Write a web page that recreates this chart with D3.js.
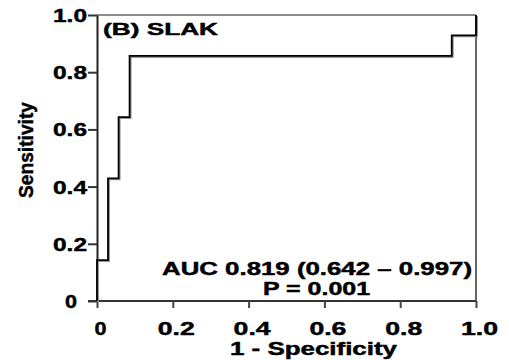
<!DOCTYPE html>
<html>
<head>
<meta charset="utf-8">
<script src="https://cdn.jsdelivr.net/npm/d3@7"></script>
<style>
  body { margin: 0; background: #fff; }
  text { font-family: "Liberation Sans", Arial, sans-serif; font-weight: bold; fill: #000; stroke: #000; stroke-width: 0.45px; }
</style>
</head>
<body>
<div id="chart"></div>
<script>
// ROC step points (1 - specificity, sensitivity)
const fpr = [0, 0, 0.029, 0.057, 0.086, 0.936, 1];
const tpr = [0, 0.143, 0.429, 0.643, 0.857, 0.929, 1];
const tickValues = [0, 0.2, 0.4, 0.6, 0.8, 1.0];
const panelTitle = "(B) SLAK";
const aucText = "AUC 0.819 (0.642 \u2013 0.997)";
const pText = "P = 0.001";

const width = 509, height = 360;
const margin = { left: 97, right: 33, top: 15, bottom: 59 };

const svg = d3.select("#chart").append("svg")
    .attr("width", width)
    .attr("height", height);

const x = d3.scaleLinear().domain([0, 1]).range([margin.left, width - margin.right]);
const y = d3.scaleLinear().domain([0, 1]).range([height - margin.bottom, margin.top]);

const fmt = d => d === 0 ? "0" : d3.format(".1f")(d);

// top frame line (gray) and right frame line
svg.append("line")
   .attr("x1", x(0)).attr("x2", x(1))
   .attr("y1", y(1)).attr("y2", y(1))
   .attr("stroke", "#8a8a8a").attr("stroke-width", 2);
svg.append("line")
   .attr("x1", x(1)).attr("x2", x(1))
   .attr("y1", y(1)).attr("y2", y(0))
   .attr("stroke", "#333").attr("stroke-width", 1.5);

// y axis
const yAxis = svg.append("g")
   .attr("transform", `translate(${x(0)},0)`)
   .call(d3.axisLeft(y).tickValues(tickValues).tickSize(9).tickSizeOuter(0).tickFormat(fmt));
yAxis.select(".domain").attr("stroke", "#222").attr("stroke-width", 2);
yAxis.selectAll(".tick line").attr("stroke", "#333").attr("stroke-width", 2);
yAxis.selectAll(".tick text")
   .attr("x", d => d === 0 ? -20 : -10)
   .attr("dy", "0.36em")
   .style("font-size", "18px")
   .attr("textLength", d => d === 0 ? 12 : 34)
   .attr("lengthAdjust", "spacingAndGlyphs");

// x axis
const xAxis = svg.append("g")
   .attr("transform", `translate(0,${y(0)})`)
   .call(d3.axisBottom(x).tickValues(tickValues).tickSize(7).tickSizeOuter(0).tickFormat(fmt));
xAxis.select(".domain").attr("stroke", "#333").attr("stroke-width", 2)
   .attr("d", `M${x(0) - 9},0H${x(1)}`);
xAxis.selectAll(".tick line").attr("stroke", "#444").attr("stroke-width", 2);
xAxis.selectAll(".tick text")
   .attr("x", 3)
   .attr("y", 34)
   .attr("dy", 0)
   .style("font-size", "18px")
   .attr("textLength", d => d === 0 ? 12 : 37)
   .attr("lengthAdjust", "spacingAndGlyphs");

// ROC curve
const line = d3.line()
   .x((d, i) => x(fpr[i]))
   .y((d, i) => y(tpr[i]))
   .curve(d3.curveStepAfter);

svg.append("path")
   .datum(fpr)
   .attr("d", line)
   .attr("transform", "translate(1,1)")
   .attr("fill", "none")
   .attr("stroke", "#999")
   .attr("stroke-width", 2);
svg.append("path")
   .datum(fpr)
   .attr("d", line)
   .attr("fill", "none")
   .attr("stroke", "#000")
   .attr("stroke-width", 1.8);

// texts
svg.append("text")
   .attr("x", 103).attr("y", 35)
   .style("font-size", "17px")
   .attr("textLength", 115).attr("lengthAdjust", "spacingAndGlyphs")
   .text(panelTitle);

svg.append("text")
   .attr("x", 162).attr("y", 275)
   .style("font-size", "17.5px")
   .attr("textLength", 310).attr("lengthAdjust", "spacingAndGlyphs")
   .text(aucText);

svg.append("text")
   .attr("x", 263).attr("y", 295)
   .style("font-size", "17.5px")
   .attr("textLength", 107).attr("lengthAdjust", "spacingAndGlyphs")
   .text(pText);

svg.append("text")
   .attr("x", 230).attr("y", 355)
   .style("font-size", "18px")
   .attr("textLength", 167).attr("lengthAdjust", "spacingAndGlyphs")
   .text("1 - Specificity");

svg.append("text")
   .attr("transform", "translate(33,198) rotate(-90)")
   .style("font-size", "21px")
   .attr("textLength", 96).attr("lengthAdjust", "spacingAndGlyphs")
   .text("Sensitivity");
</script>
</body>
</html>
